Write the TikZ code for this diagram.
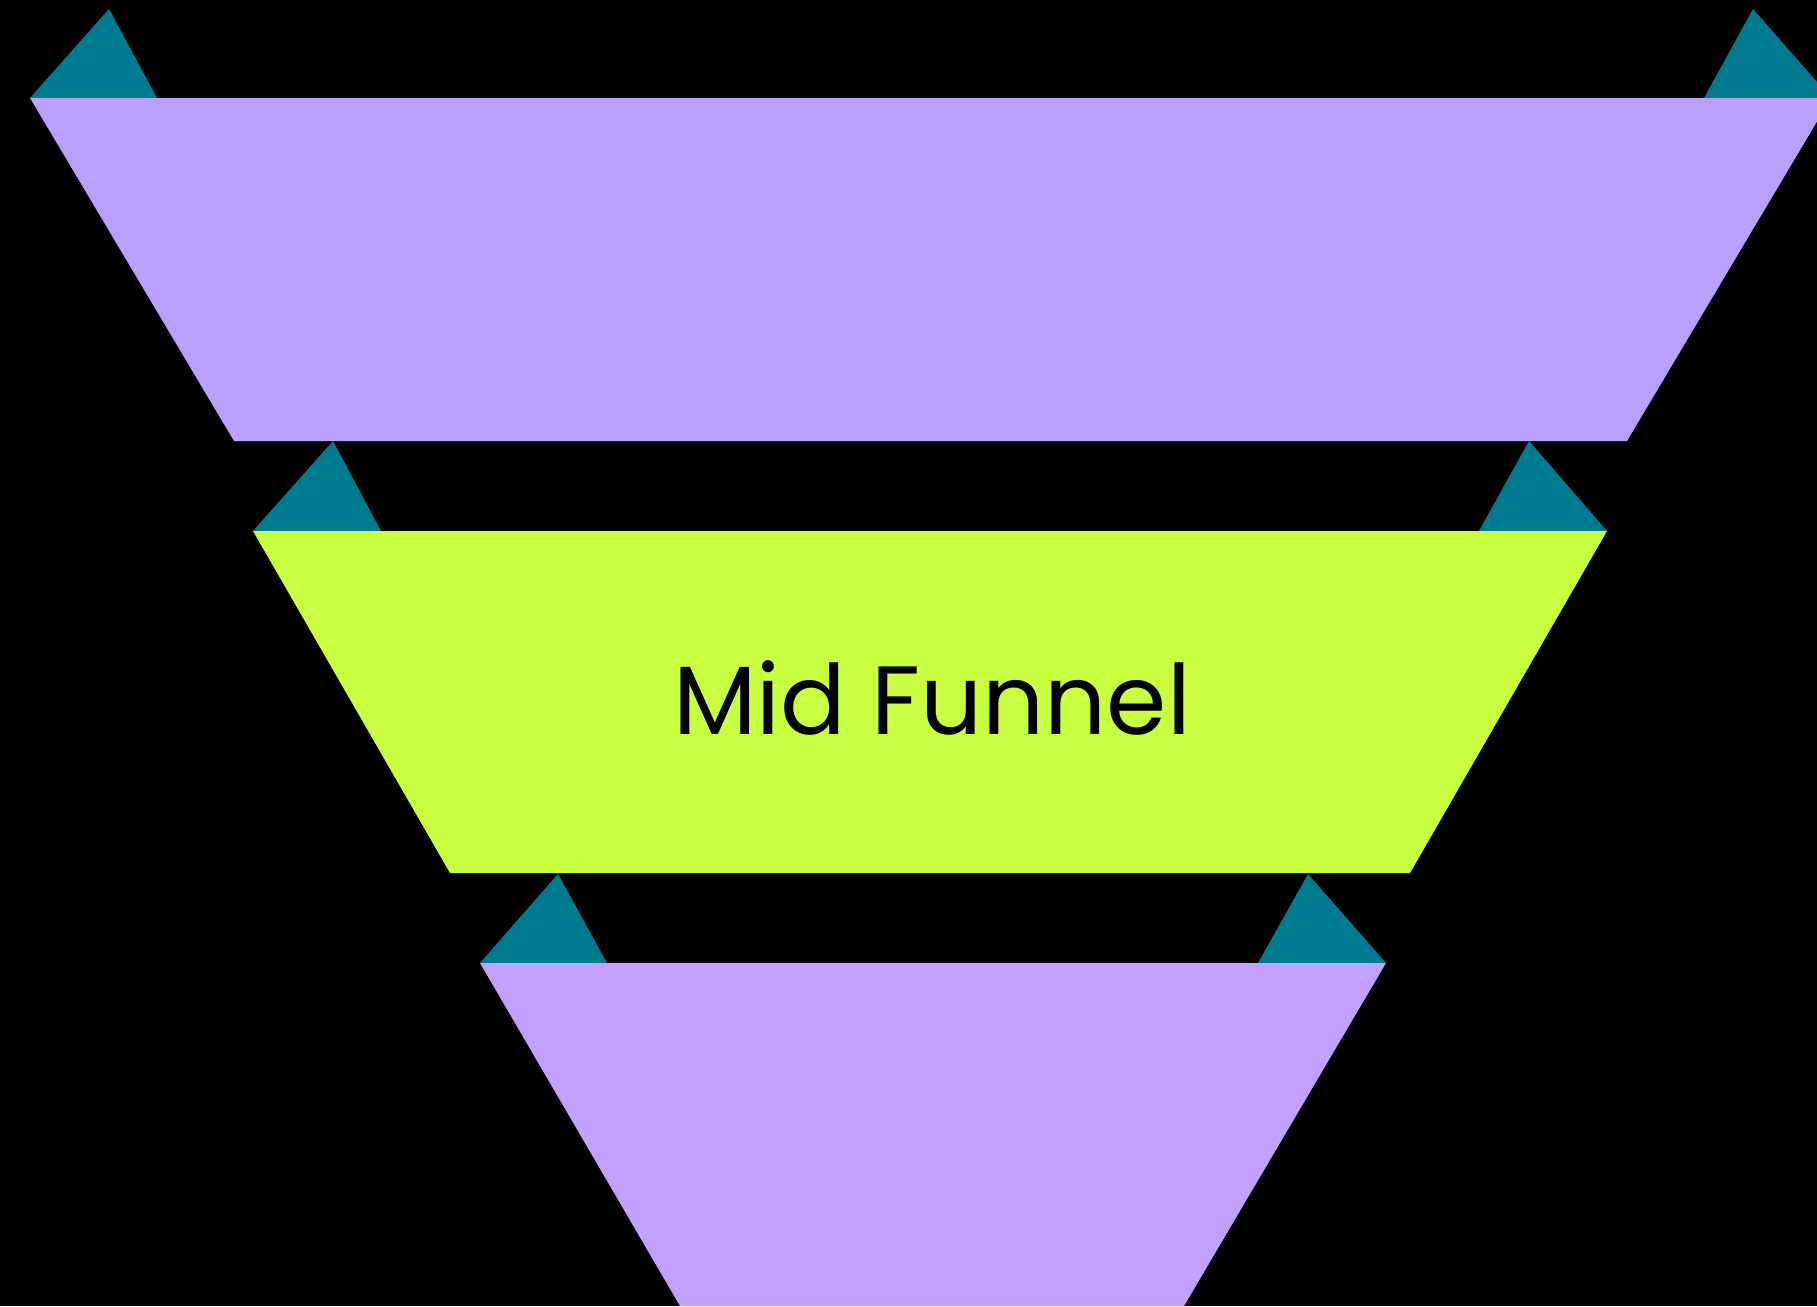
\documentclass[tikz,border=0pt]{standalone}
\usepackage{fontspec}
\setmainfont{Poppins}
\definecolor{toppurple}{RGB}{185,160,255}
\definecolor{botpurple}{RGB}{194,160,255}
\definecolor{lime}{RGB}{200,255,64}
\definecolor{teal}{RGB}{0,122,142}
\begin{document}
\begin{tikzpicture}[x=1pt,y=-1pt,
  tri/.style={fill=teal},
  label/.style={font=\fontsize{97}{100}\selectfont, text=black, inner sep=0pt}]
\useasboundingbox (0,0) rectangle (1817,1306);
\fill[black] (0,0) rectangle (1817,1306);
\begin{scope}
\clip (0,0) rectangle (1817,1306);
% top stage
\fill[tri] (30,98) -- (109,9) -- (157,98) -- cycle;
\fill[tri] (1831,98) -- (1753,9) -- (1704,98) -- cycle;
\fill[toppurple] (30,98) -- (1831,98) -- (1627,441) -- (234,441) -- cycle;
% middle stage
\fill[tri] (253,531) -- (333,441) -- (381,531) -- cycle;
\fill[tri] (1607,531) -- (1529,441) -- (1479,531) -- cycle;
\fill[lime] (253,531) -- (1607,531) -- (1410,873) -- (450,873) -- cycle;
% bottom stage
\fill[tri] (480,963) -- (558,874) -- (607,963) -- cycle;
\fill[tri] (1386,963) -- (1308,874) -- (1258,963) -- cycle;
\fill[botpurple] (480,963) -- (1386,963) -- (1184,1306) -- (680,1306) -- cycle;
\end{scope}
\node[label, anchor=base] (mid) at (932,734) {Mid Funnel};
\end{tikzpicture}
\end{document}
